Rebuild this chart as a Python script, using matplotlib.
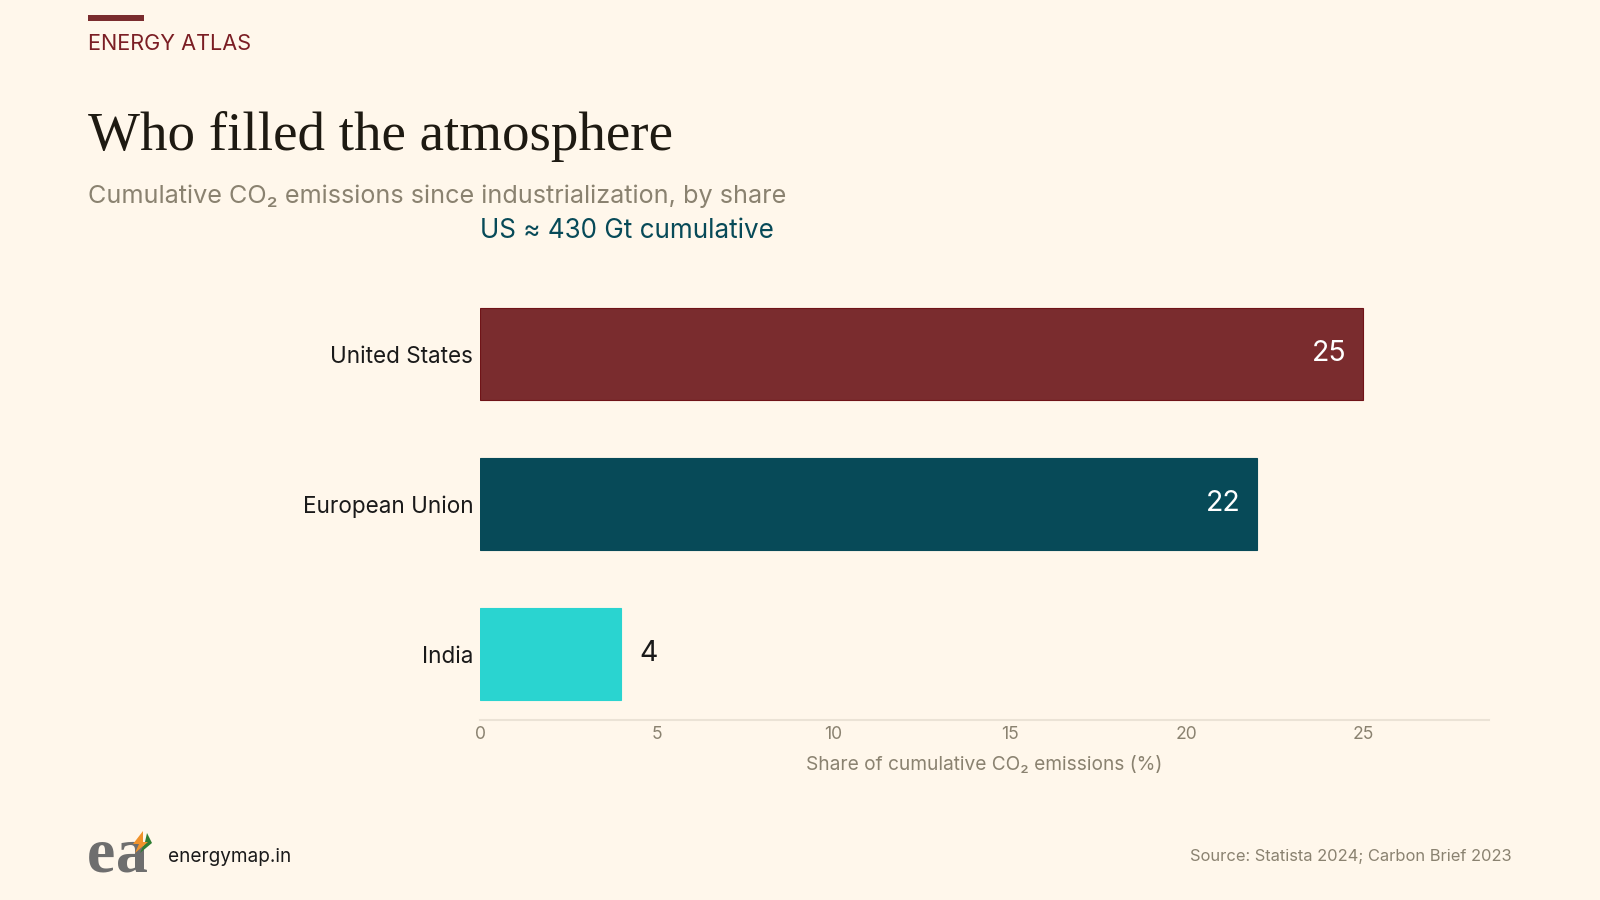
import matplotlib
matplotlib.use("Agg")
import matplotlib.pyplot as plt
from matplotlib.patches import Polygon, Rectangle

categories = ["United States", "European Union", "India"]
shares = [25, 22, 4]
bar_colors = ["#7A2C2E", "#074A58", "#2AD4D0"]
edge_colors = ["#701418", "#074A58", "#2AD4D0"]
label_colors = ["#FFFFFF", "#FFFFFF", "#1A1A1A"]
x_ticks = [0, 5, 10, 15, 20, 25]

BG = "#FFF7EB"
MUTED = "#8A8270"
plt.rcParams["font.family"] = ["Inter", "DejaVu Sans"]

W, H = 1600, 900
fig = plt.figure(figsize=(16, 9), dpi=100, facecolor=BG)
def fx(px): return px / W
def fy(py): return 1 - py / H

ax = fig.add_axes([fx(480), fy(720), (1489 - 480) / W, (720 - 279) / H], facecolor=BG)
ypos = list(range(len(categories)))
ax.barh(ypos, shares, height=0.608, color=bar_colors, edgecolor=edge_colors, linewidth=0.8)
ax.set_xlim(0, 28.56)
ax.set_ylim(2.44, -0.5)
ax.set_yticks(ypos, categories, fontsize=16.2, color="#1A1A1A")
ax.set_xticks(x_ticks, [str(t) for t in x_ticks], fontsize=12.6, color=MUTED)
ax.tick_params(axis="y", length=0, pad=4.9)
ax.tick_params(axis="x", length=0, pad=4.6)
for s in ["top", "right", "left"]:
    ax.spines[s].set_visible(False)
ax.spines["bottom"].set_color("#EBE3D6")
ax.spines["bottom"].set_linewidth(1.5)
ax.set_xlabel("Share of cumulative CO₂ emissions (%)", fontsize=13.75, color=MUTED, labelpad=9.4)

for y, v, c in zip(ypos, shares, label_colors):
    inside = v > 5
    ax.annotate(str(v), (v, y), xytext=(-17 if inside else 18, 1), textcoords="offset pixels",
                ha="right" if inside else "left", va="center", fontsize=20.5, color=c)

fig.add_artist(Rectangle((fx(88), fy(21)), 56 / W, 6 / H, transform=fig.transFigure, color="#7A2C2E", lw=0))
fig.text(fx(88), fy(44), "ENERGY ATLAS", fontsize=15.6, color="#7B1E24", va="center")
fig.text(fx(88), fy(137), "Who filled the atmosphere", family="Liberation Serif", fontsize=39.6,
         color="#1E1A12", va="center")
fig.text(fx(88), fy(196), "Cumulative CO₂ emissions since industrialization, by share", fontsize=18.15,
         color=MUTED, va="center")
fig.text(fx(480), fy(231), "US ≈ 430 Gt cumulative", fontsize=18.75, color="#074A58", va="center")

# logo
fig.text(fx(87), fy(872), "e", family="Liberation Serif", weight="bold", fontsize=46, color="#6E6E6E", va="baseline")
fig.text(fx(116), fy(872), "a", family="Liberation Serif", weight="bold", fontsize=46, color="#6E6E6E", va="baseline")
fig.add_artist(Polygon([(fx(147), fy(833)), (fx(152), fy(843)), (fx(140), fy(853)), (fx(145), fy(842))],
                       transform=fig.transFigure, color="#2E7D32", lw=0, zorder=5))
fig.add_artist(Polygon([(fx(143), fy(831)), (fx(133), fy(844)), (fx(139), fy(844)), (fx(135), fy(853)),
                        (fx(148), fy(842)), (fx(143), fy(842))],
                       transform=fig.transFigure, color="#F0922B", lw=0, zorder=6))
fig.text(fx(168), fy(857), "energymap.in", fontsize=13.65, color="#1A1A1A", va="center")
fig.text(fx(1512), fy(857), "Source: Statista 2024; Carbon Brief 2023", fontsize=11.9, color=MUTED,
         va="center", ha="right")

fig.savefig("out.png", dpi=100, facecolor=BG)
